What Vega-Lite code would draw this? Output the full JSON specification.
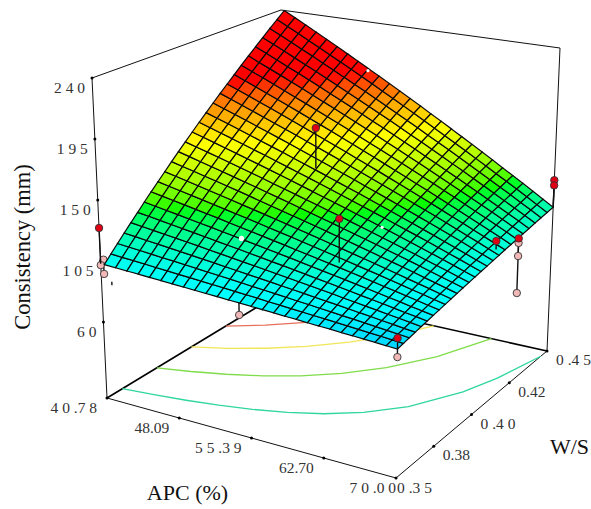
{"$schema":"https://vega.github.io/schema/vega-lite/v6.json","width":591,"height":509,"padding":0,"autosize":"none","background":"white","config":{"view":{"stroke":null}},
"datasets":{"nodes":[
{"id":0,"c":103},{"id":100,"c":102.6},{"id":200,"c":102.1},{"id":300,"c":101.7},{"id":400,"c":101.2},{"id":500,"c":100.8},{"id":600,"c":100.3},{"id":700,"c":99.9},{"id":800,"c":99.5},{"id":900,"c":99},{"id":1000,"c":98.6},{"id":1100,"c":98.1},{"id":1200,"c":97.7},{"id":1300,"c":97.3},{"id":1400,"c":96.8},{"id":1500,"c":96.4},{"id":1600,"c":95.9},{"id":1700,"c":95.5},{"id":1800,"c":95},{"id":1900,"c":94.6},{"id":2000,"c":94.2},{"id":2100,"c":93.7},{"id":2200,"c":93.3},{"id":2300,"c":92.8},{"id":2400,"c":92.4},{"id":2500,"c":91.9},{"id":2600,"c":91.5},
{"id":1,"c":108.3},{"id":101,"c":107.7},{"id":201,"c":107.1},{"id":301,"c":106.5},{"id":401,"c":105.8},{"id":501,"c":105.2},{"id":601,"c":104.6},{"id":701,"c":104},{"id":801,"c":103.4},{"id":901,"c":102.8},{"id":1001,"c":102.2},{"id":1101,"c":101.6},{"id":1201,"c":101},{"id":1301,"c":100.4},{"id":1401,"c":99.7},{"id":1501,"c":99.1},{"id":1601,"c":98.5},{"id":1701,"c":97.9},{"id":1801,"c":97.3},{"id":1901,"c":96.7},{"id":2001,"c":96.1},{"id":2101,"c":95.5},{"id":2201,"c":94.9},{"id":2301,"c":94.3},{"id":2401,"c":93.7},{"id":2501,"c":93},{"id":2601,"c":92.4},
{"id":2,"c":113.5},{"id":102,"c":112.8},{"id":202,"c":112},{"id":302,"c":111.2},{"id":402,"c":110.4},{"id":502,"c":109.7},{"id":602,"c":108.9},{"id":702,"c":108.1},{"id":802,"c":107.3},{"id":902,"c":106.6},{"id":1002,"c":105.8},{"id":1102,"c":105},{"id":1202,"c":104.2},{"id":1302,"c":103.5},{"id":1402,"c":102.7},{"id":1502,"c":101.9},{"id":1602,"c":101.1},{"id":1702,"c":100.4},{"id":1802,"c":99.6},{"id":1902,"c":98.8},{"id":2002,"c":98},{"id":2102,"c":97.3},{"id":2202,"c":96.5},{"id":2302,"c":95.7},{"id":2402,"c":94.9},{"id":2502,"c":94.2},{"id":2602,"c":93.4},
{"id":3,"c":118.8},{"id":103,"c":117.9},{"id":203,"c":116.9},{"id":303,"c":116},{"id":403,"c":115.1},{"id":503,"c":114.1},{"id":603,"c":113.2},{"id":703,"c":112.2},{"id":803,"c":111.3},{"id":903,"c":110.3},{"id":1003,"c":109.4},{"id":1103,"c":108.4},{"id":1203,"c":107.5},{"id":1303,"c":106.6},{"id":1403,"c":105.6},{"id":1503,"c":104.7},{"id":1603,"c":103.7},{"id":1703,"c":102.8},{"id":1803,"c":101.8},{"id":1903,"c":100.9},{"id":2003,"c":100},{"id":2103,"c":99},{"id":2203,"c":98.1},{"id":2303,"c":97.1},{"id":2403,"c":96.2},{"id":2503,"c":95.2},{"id":2603,"c":94.3},
{"id":4,"c":124.1},{"id":104,"c":123},{"id":204,"c":121.9},{"id":304,"c":120.8},{"id":404,"c":119.7},{"id":504,"c":118.6},{"id":604,"c":117.5},{"id":704,"c":116.3},{"id":804,"c":115.2},{"id":904,"c":114.1},{"id":1004,"c":113},{"id":1104,"c":111.9},{"id":1204,"c":110.8},{"id":1304,"c":109.7},{"id":1404,"c":108.6},{"id":1504,"c":107.5},{"id":1604,"c":106.4},{"id":1704,"c":105.3},{"id":1804,"c":104.2},{"id":1904,"c":103},{"id":2004,"c":101.9},{"id":2104,"c":100.8},{"id":2204,"c":99.7},{"id":2304,"c":98.6},{"id":2404,"c":97.5},{"id":2504,"c":96.4},{"id":2604,"c":95.3},
{"id":5,"c":129.3},{"id":105,"c":128.1},{"id":205,"c":126.8},{"id":305,"c":125.5},{"id":405,"c":124.2},{"id":505,"c":123},{"id":605,"c":121.7},{"id":705,"c":120.4},{"id":805,"c":119.1},{"id":905,"c":117.9},{"id":1005,"c":116.6},{"id":1105,"c":115.3},{"id":1205,"c":114},{"id":1305,"c":112.8},{"id":1405,"c":111.5},{"id":1505,"c":110.2},{"id":1605,"c":108.9},{"id":1705,"c":107.7},{"id":1805,"c":106.4},{"id":1905,"c":105.1},{"id":2005,"c":103.8},{"id":2105,"c":102.6},{"id":2205,"c":101.3},{"id":2305,"c":100},{"id":2405,"c":98.7},{"id":2505,"c":97.5},{"id":2605,"c":96.2},
{"id":6,"c":134.6},{"id":106,"c":133.2},{"id":206,"c":131.7},{"id":306,"c":130.3},{"id":406,"c":128.8},{"id":506,"c":127.4},{"id":606,"c":126},{"id":706,"c":124.5},{"id":806,"c":123.1},{"id":906,"c":121.6},{"id":1006,"c":120.2},{"id":1106,"c":118.8},{"id":1206,"c":117.3},{"id":1306,"c":115.9},{"id":1406,"c":114.4},{"id":1506,"c":113},{"id":1606,"c":111.5},{"id":1706,"c":110.1},{"id":1806,"c":108.7},{"id":1906,"c":107.2},{"id":2006,"c":105.8},{"id":2106,"c":104.3},{"id":2206,"c":102.9},{"id":2306,"c":101.5},{"id":2406,"c":100},{"id":2506,"c":98.6},{"id":2606,"c":97.2},
{"id":7,"c":139.9},{"id":107,"c":138.3},{"id":207,"c":136.7},{"id":307,"c":135.1},{"id":407,"c":133.5},{"id":507,"c":131.9},{"id":607,"c":130.3},{"id":707,"c":128.6},{"id":807,"c":127},{"id":907,"c":125.4},{"id":1007,"c":123.8},{"id":1107,"c":122.2},{"id":1207,"c":120.6},{"id":1307,"c":119},{"id":1407,"c":117.4},{"id":1507,"c":115.8},{"id":1607,"c":114.2},{"id":1707,"c":112.6},{"id":1807,"c":111},{"id":1907,"c":109.4},{"id":2007,"c":107.8},{"id":2107,"c":106.1},{"id":2207,"c":104.5},{"id":2307,"c":102.9},{"id":2407,"c":101.3},{"id":2507,"c":99.7},{"id":2607,"c":98.1},
{"id":8,"c":145.2},{"id":108,"c":143.4},{"id":208,"c":141.6},{"id":308,"c":139.8},{"id":408,"c":138.1},{"id":508,"c":136.3},{"id":608,"c":134.5},{"id":708,"c":132.7},{"id":808,"c":131},{"id":908,"c":129.2},{"id":1008,"c":127.4},{"id":1108,"c":125.6},{"id":1208,"c":123.9},{"id":1308,"c":122.1},{"id":1408,"c":120.3},{"id":1508,"c":118.5},{"id":1608,"c":116.8},{"id":1708,"c":115},{"id":1808,"c":113.2},{"id":1908,"c":111.4},{"id":2008,"c":109.7},{"id":2108,"c":107.9},{"id":2208,"c":106.1},{"id":2308,"c":104.3},{"id":2408,"c":102.6},{"id":2508,"c":100.8},{"id":2608,"c":99},
{"id":9,"c":150.4},{"id":109,"c":148.5},{"id":209,"c":146.5},{"id":309,"c":144.6},{"id":409,"c":142.7},{"id":509,"c":140.7},{"id":609,"c":138.8},{"id":709,"c":136.8},{"id":809,"c":134.9},{"id":909,"c":133},{"id":1009,"c":131},{"id":1109,"c":129.1},{"id":1209,"c":127.1},{"id":1309,"c":125.2},{"id":1409,"c":123.3},{"id":1509,"c":121.3},{"id":1609,"c":119.4},{"id":1709,"c":117.4},{"id":1809,"c":115.5},{"id":1909,"c":113.6},{"id":2009,"c":111.6},{"id":2109,"c":109.7},{"id":2209,"c":107.7},{"id":2309,"c":105.8},{"id":2409,"c":103.9},{"id":2509,"c":101.9},{"id":2609,"c":100},
{"id":10,"c":155.7},{"id":110,"c":153.6},{"id":210,"c":151.5},{"id":310,"c":149.4},{"id":410,"c":147.3},{"id":510,"c":145.2},{"id":610,"c":143.1},{"id":710,"c":141},{"id":810,"c":138.8},{"id":910,"c":136.7},{"id":1010,"c":134.6},{"id":1110,"c":132.5},{"id":1210,"c":130.4},{"id":1310,"c":128.3},{"id":1410,"c":126.2},{"id":1510,"c":124.1},{"id":1610,"c":122},{"id":1710,"c":119.9},{"id":1810,"c":117.8},{"id":1910,"c":115.7},{"id":2010,"c":113.6},{"id":2110,"c":111.5},{"id":2210,"c":109.4},{"id":2310,"c":107.2},{"id":2410,"c":105.1},{"id":2510,"c":103},{"id":2610,"c":100.9},
{"id":11,"c":161},{"id":111,"c":158.7},{"id":211,"c":156.4},{"id":311,"c":154.2},{"id":411,"c":151.9},{"id":511,"c":149.6},{"id":611,"c":147.3},{"id":711,"c":145.1},{"id":811,"c":142.8},{"id":911,"c":140.5},{"id":1011,"c":138.3},{"id":1111,"c":136},{"id":1211,"c":133.7},{"id":1311,"c":131.4},{"id":1411,"c":129.2},{"id":1511,"c":126.9},{"id":1611,"c":124.6},{"id":1711,"c":122.4},{"id":1811,"c":120.1},{"id":1911,"c":117.8},{"id":2011,"c":115.5},{"id":2111,"c":113.3},{"id":2211,"c":111},{"id":2311,"c":108.7},{"id":2411,"c":106.4},{"id":2511,"c":104.2},{"id":2611,"c":101.9},
{"id":12,"c":166.2},{"id":112,"c":163.8},{"id":212,"c":161.4},{"id":312,"c":159},{"id":412,"c":156.5},{"id":512,"c":154.1},{"id":612,"c":151.6},{"id":712,"c":149.2},{"id":812,"c":146.7},{"id":912,"c":144.3},{"id":1012,"c":141.8},{"id":1112,"c":139.4},{"id":1212,"c":137},{"id":1312,"c":134.5},{"id":1412,"c":132.1},{"id":1512,"c":129.6},{"id":1612,"c":127.2},{"id":1712,"c":124.7},{"id":1812,"c":122.3},{"id":1912,"c":119.9},{"id":2012,"c":117.4},{"id":2112,"c":115},{"id":2212,"c":112.5},{"id":2312,"c":110.1},{"id":2412,"c":107.7},{"id":2512,"c":105.2},{"id":2612,"c":102.8},
{"id":13,"c":171.5},{"id":113,"c":168.9},{"id":213,"c":166.3},{"id":313,"c":163.7},{"id":413,"c":161.1},{"id":513,"c":158.5},{"id":613,"c":155.9},{"id":713,"c":153.3},{"id":813,"c":150.7},{"id":913,"c":148.1},{"id":1013,"c":145.4},{"id":1113,"c":142.8},{"id":1213,"c":140.2},{"id":1313,"c":137.6},{"id":1413,"c":135},{"id":1513,"c":132.4},{"id":1613,"c":129.8},{"id":1713,"c":127.2},{"id":1813,"c":124.6},{"id":1913,"c":122},{"id":2013,"c":119.4},{"id":2113,"c":116.8},{"id":2213,"c":114.2},{"id":2313,"c":111.6},{"id":2413,"c":108.9},{"id":2513,"c":106.3},{"id":2613,"c":103.75},
{"id":14,"c":176.8},{"id":114,"c":174},{"id":214,"c":171.2},{"id":314,"c":168.5},{"id":414,"c":165.7},{"id":514,"c":162.9},{"id":614,"c":160.2},{"id":714,"c":157.4},{"id":814,"c":154.6},{"id":914,"c":151.8},{"id":1014,"c":149.1},{"id":1114,"c":146.3},{"id":1214,"c":143.5},{"id":1314,"c":140.8},{"id":1414,"c":138},{"id":1514,"c":135.2},{"id":1614,"c":132.4},{"id":1714,"c":129.7},{"id":1814,"c":126.9},{"id":1914,"c":124.1},{"id":2014,"c":121.4},{"id":2114,"c":118.6},{"id":2214,"c":115.8},{"id":2314,"c":113},{"id":2414,"c":110.3},{"id":2514,"c":107.5},{"id":2614,"c":104.7},
{"id":15,"c":182},{"id":115,"c":179.1},{"id":215,"c":176.2},{"id":315,"c":173.2},{"id":415,"c":170.3},{"id":515,"c":167.3},{"id":615,"c":164.4},{"id":715,"c":161.5},{"id":815,"c":158.5},{"id":915,"c":155.6},{"id":1015,"c":152.6},{"id":1115,"c":149.7},{"id":1215,"c":146.7},{"id":1315,"c":143.8},{"id":1415,"c":140.9},{"id":1515,"c":137.9},{"id":1615,"c":135},{"id":1715,"c":132},{"id":1815,"c":129.1},{"id":1915,"c":126.2},{"id":2015,"c":123.2},{"id":2115,"c":120.3},{"id":2215,"c":117.3},{"id":2315,"c":114.4},{"id":2415,"c":111.5},{"id":2515,"c":108.5},{"id":2615,"c":105.6},
{"id":16,"c":187.3},{"id":116,"c":184.2},{"id":216,"c":181.1},{"id":316,"c":178},{"id":416,"c":174.9},{"id":516,"c":171.8},{"id":616,"c":168.7},{"id":716,"c":165.6},{"id":816,"c":162.5},{"id":916,"c":159.4},{"id":1016,"c":156.3},{"id":1116,"c":153.2},{"id":1216,"c":150.1},{"id":1316,"c":147},{"id":1416,"c":143.8},{"id":1516,"c":140.7},{"id":1616,"c":137.6},{"id":1716,"c":134.5},{"id":1816,"c":131.4},{"id":1916,"c":128.3},{"id":2016,"c":125.2},{"id":2116,"c":122.1},{"id":2216,"c":119},{"id":2316,"c":115.9},{"id":2416,"c":112.8},{"id":2516,"c":109.7},{"id":2616,"c":106.6},
{"id":17,"c":192.6},{"id":117,"c":189.3},{"id":217,"c":186},{"id":317,"c":182.8},{"id":417,"c":179.5},{"id":517,"c":176.2},{"id":617,"c":172.9},{"id":717,"c":169.7},{"id":817,"c":166.4},{"id":917,"c":163.1},{"id":1017,"c":159.9},{"id":1117,"c":156.6},{"id":1217,"c":153.3},{"id":1317,"c":150},{"id":1417,"c":146.8},{"id":1517,"c":143.5},{"id":1617,"c":140.2},{"id":1717,"c":137},{"id":1817,"c":133.7},{"id":1917,"c":130.4},{"id":2017,"c":127.2},{"id":2117,"c":123.9},{"id":2217,"c":120.6},{"id":2317,"c":117.3},{"id":2417,"c":114.1},{"id":2517,"c":110.8},{"id":2617,"c":107.5},
{"id":18,"c":197.8},{"id":118,"c":194.4},{"id":218,"c":191},{"id":318,"c":187.5},{"id":418,"c":184.1},{"id":518,"c":180.6},{"id":618,"c":177.2},{"id":718,"c":173.7},{"id":818,"c":170.3},{"id":918,"c":166.9},{"id":1018,"c":163.4},{"id":1118,"c":160},{"id":1218,"c":156.5},{"id":1318,"c":153.1},{"id":1418,"c":149.7},{"id":1518,"c":146.2},{"id":1618,"c":142.8},{"id":1718,"c":139.4},{"id":1818,"c":135.9},{"id":1918,"c":132.5},{"id":2018,"c":129},{"id":2118,"c":125.6},{"id":2218,"c":122.2},{"id":2318,"c":118.7},{"id":2418,"c":115.3},{"id":2518,"c":111.9},{"id":2618,"c":108.5},
{"id":19,"c":203.1},{"id":119,"c":199.5},{"id":219,"c":195.9},{"id":319,"c":192.3},{"id":419,"c":188.7},{"id":519,"c":185.1},{"id":619,"c":181.5},{"id":719,"c":177.9},{"id":819,"c":174.3},{"id":919,"c":170.7},{"id":1019,"c":167.1},{"id":1119,"c":163.5},{"id":1219,"c":159.9},{"id":1319,"c":156.2},{"id":1419,"c":152.6},{"id":1519,"c":149},{"id":1619,"c":145.4},{"id":1719,"c":141.8},{"id":1819,"c":138.2},{"id":1919,"c":134.6},{"id":2019,"c":131},{"id":2119,"c":127.4},{"id":2219,"c":123.8},{"id":2319,"c":120.2},{"id":2419,"c":116.6},{"id":2519,"c":113},{"id":2619,"c":109.4},
{"id":20,"c":208.4},{"id":120,"c":204.6},{"id":220,"c":200.9},{"id":320,"c":197.1},{"id":420,"c":193.3},{"id":520,"c":189.5},{"id":620,"c":185.8},{"id":720,"c":182},{"id":820,"c":178.2},{"id":920,"c":174.5},{"id":1020,"c":170.7},{"id":1120,"c":166.9},{"id":1220,"c":163.1},{"id":1320,"c":159.4},{"id":1420,"c":155.6},{"id":1520,"c":151.8},{"id":1620,"c":148.1},{"id":1720,"c":144.3},{"id":1820,"c":140.5},{"id":1920,"c":136.7},{"id":2020,"c":133},{"id":2120,"c":129.2},{"id":2220,"c":125.4},{"id":2320,"c":121.7},{"id":2420,"c":117.9},{"id":2520,"c":114.1},{"id":2620,"c":110.3},
{"id":21,"c":213.7},{"id":121,"c":209.7},{"id":221,"c":205.8},{"id":321,"c":201.9},{"id":421,"c":197.9},{"id":521,"c":194},{"id":621,"c":190.1},{"id":721,"c":186.1},{"id":821,"c":182.2},{"id":921,"c":178.3},{"id":1021,"c":174.3},{"id":1121,"c":170.4},{"id":1221,"c":166.5},{"id":1321,"c":162.5},{"id":1421,"c":158.6},{"id":1521,"c":154.6},{"id":1621,"c":150.7},{"id":1721,"c":146.8},{"id":1821,"c":142.8},{"id":1921,"c":138.9},{"id":2021,"c":135},{"id":2121,"c":131},{"id":2221,"c":127.1},{"id":2321,"c":123.2},{"id":2421,"c":119.2},{"id":2521,"c":115.3},{"id":2621,"c":111.3},
{"id":22,"c":218.9},{"id":122,"c":214.8},{"id":222,"c":210.7},{"id":322,"c":206.6},{"id":422,"c":202.5},{"id":522,"c":198.4},{"id":622,"c":194.3},{"id":722,"c":190.2},{"id":822,"c":186.1},{"id":922,"c":182},{"id":1022,"c":177.9},{"id":1122,"c":173.8},{"id":1222,"c":169.7},{"id":1322,"c":165.6},{"id":1422,"c":161.5},{"id":1522,"c":157.4},{"id":1622,"c":153.2},{"id":1722,"c":149.1},{"id":1822,"c":145},{"id":1922,"c":140.9},{"id":2022,"c":136.8},{"id":2122,"c":132.7},{"id":2222,"c":128.6},{"id":2322,"c":124.5},{"id":2422,"c":120.4},{"id":2522,"c":116.3},{"id":2622,"c":112.2},
{"id":23,"c":224.2},{"id":123,"c":219.9},{"id":223,"c":215.7},{"id":323,"c":211.4},{"id":423,"c":207.1},{"id":523,"c":202.9},{"id":623,"c":198.6},{"id":723,"c":194.3},{"id":823,"c":190},{"id":923,"c":185.8},{"id":1023,"c":181.5},{"id":1123,"c":177.2},{"id":1223,"c":173},{"id":1323,"c":168.7},{"id":1423,"c":164.4},{"id":1523,"c":160.2},{"id":1623,"c":155.9},{"id":1723,"c":151.6},{"id":1823,"c":147.3},{"id":1923,"c":143.1},{"id":2023,"c":138.8},{"id":2123,"c":134.5},{"id":2223,"c":130.3},{"id":2323,"c":126},{"id":2423,"c":121.7},{"id":2523,"c":117.5},{"id":2623,"c":113.2},
{"id":24,"c":229.5},{"id":124,"c":225},{"id":224,"c":220.6},{"id":324,"c":216.2},{"id":424,"c":211.8},{"id":524,"c":207.3},{"id":624,"c":202.9},{"id":724,"c":198.4},{"id":824,"c":194},{"id":924,"c":189.6},{"id":1024,"c":185.1},{"id":1124,"c":180.7},{"id":1224,"c":176.3},{"id":1324,"c":171.8},{"id":1424,"c":167.4},{"id":1524,"c":162.9},{"id":1624,"c":158.5},{"id":1724,"c":154.1},{"id":1824,"c":149.6},{"id":1924,"c":145.2},{"id":2024,"c":140.8},{"id":2124,"c":136.3},{"id":2224,"c":131.9},{"id":2324,"c":127.5},{"id":2424,"c":123},{"id":2524,"c":118.6},{"id":2624,"c":114.1},
{"id":25,"c":234.7},{"id":125,"c":230.1},{"id":225,"c":225.5},{"id":325,"c":220.9},{"id":425,"c":216.3},{"id":525,"c":211.7},{"id":625,"c":207.1},{"id":725,"c":202.5},{"id":825,"c":197.9},{"id":925,"c":193.3},{"id":1025,"c":188.7},{"id":1125,"c":184.1},{"id":1225,"c":179.5},{"id":1325,"c":174.9},{"id":1425,"c":170.3},{"id":1525,"c":165.7},{"id":1625,"c":161.1},{"id":1725,"c":156.5},{"id":1825,"c":151.9},{"id":1925,"c":147.3},{"id":2025,"c":142.7},{"id":2125,"c":138.1},{"id":2225,"c":133.5},{"id":2325,"c":128.9},{"id":2425,"c":124.3},{"id":2525,"c":119.7},{"id":2625,"c":115.1},
{"id":26,"c":240},{"id":126,"c":235.2},{"id":226,"c":230.5},{"id":326,"c":225.7},{"id":426,"c":220.9},{"id":526,"c":216.2},{"id":626,"c":211.4},{"id":726,"c":206.6},{"id":826,"c":201.8},{"id":926,"c":197.1},{"id":1026,"c":192.3},{"id":1126,"c":187.5},{"id":1226,"c":182.8},{"id":1326,"c":178},{"id":1426,"c":173.2},{"id":1526,"c":168.5},{"id":1626,"c":163.7},{"id":1726,"c":158.9},{"id":1826,"c":154.2},{"id":1926,"c":149.4},{"id":2026,"c":144.6},{"id":2126,"c":139.8},{"id":2226,"c":135.1},{"id":2326,"c":130.3},{"id":2426,"c":125.5},{"id":2526,"c":120.8},{"id":2626,"c":116}
],
"items":[
{"kind":"box","seg":"b1","a":0,"w":0,"c":4},{"kind":"box","seg":"b1","a":1,"w":0,"c":4},
{"kind":"box","seg":"b2","a":1,"w":0,"c":4},{"kind":"box","seg":"b2","a":1,"w":1,"c":4},
{"kind":"box","seg":"b3","a":1,"w":1,"c":4},{"kind":"box","seg":"b3","a":1,"w":1,"c":240},
{"kind":"box","seg":"b4","a":1,"w":1,"c":240},{"kind":"box","seg":"b4","a":0,"w":1,"c":240},
{"kind":"box","seg":"b5","a":0,"w":1,"c":240},{"kind":"box","seg":"b5","a":0,"w":0,"c":240},
{"kind":"box","seg":"b6","a":0,"w":0,"c":240},{"kind":"box","seg":"b6","a":0,"w":0,"c":4},
{"kind":"back","seg":"s1","a":0,"w":0,"c":4},{"kind":"back","seg":"s1","a":0,"w":1,"c":4},
{"kind":"back","seg":"s2","a":0,"w":1,"c":4},{"kind":"back","seg":"s2","a":1,"w":1,"c":4},
{"kind":"tick","a":0,"w":0,"c":240},{"kind":"tick","a":0,"w":0,"c":195},{"kind":"tick","a":0,"w":0,"c":150},{"kind":"tick","a":0,"w":0,"c":105},{"kind":"tick","a":0,"w":0,"c":60},{"kind":"tick","a":0,"w":0,"c":4},
{"kind":"tick","a":0.25,"w":0,"c":4},{"kind":"tick","a":0.5,"w":0,"c":4},{"kind":"tick","a":0.75,"w":0,"c":4},{"kind":"tick","a":1,"w":0,"c":4},
{"kind":"tick","a":1,"w":0.25,"c":4},{"kind":"tick","a":1,"w":0.5,"c":4},{"kind":"tick","a":1,"w":0.75,"c":4},{"kind":"tick","a":1,"w":1,"c":4},
{"kind":"zl","label":"2 4 0","a":0,"w":0,"c":240},{"kind":"zl","label":"1 9 5","a":0,"w":0,"c":195},{"kind":"zl","label":"1 5 0","a":0,"w":0,"c":150},{"kind":"zl","label":"1 0 5","a":0,"w":0,"c":105},{"kind":"zl","label":"6 0","a":0,"w":0,"c":60},
{"kind":"al","label":"4 0 .7 8","a":0,"w":0,"c":4},{"kind":"al","label":"48.09","a":0.25,"w":0,"c":4},{"kind":"al","label":"5 5 .3 9","a":0.5,"w":0,"c":4},{"kind":"al","label":"62.70","a":0.75,"w":0,"c":4},
{"kind":"alast","label":"7 0 .0 0","a":1,"w":0,"c":4},{"kind":"wfirst","label":"0 .3 5","a":1,"w":0,"c":4},
{"kind":"wl","label":"0.38","a":1,"w":0.25,"c":4},{"kind":"wl","label":"0 .4 0","a":1,"w":0.5,"c":4},{"kind":"wl","label":"0.42","a":1,"w":0.75,"c":4},{"kind":"wl","label":"0 .4 5","a":1,"w":1,"c":4},
{"kind":"tz","label":"Consistency (mm)","a":0,"w":0,"c":115.4},{"kind":"ta","label":"APC (%)","a":0.5,"w":0,"c":4},{"kind":"tw","label":"W/S","a":1,"w":0.5,"c":4},
{"kind":"contour","seg":"L115","a":0,"w":0.0876,"c":4},{"kind":"contour","seg":"L115","a":0.1,"w":0.1046,"c":4},{"kind":"contour","seg":"L115","a":0.2,"w":0.1249,"c":4},{"kind":"contour","seg":"L115","a":0.3,"w":0.1496,"c":4},{"kind":"contour","seg":"L115","a":0.4,"w":0.1804,"c":4},{"kind":"contour","seg":"L115","a":0.5,"w":0.2198,"c":4},{"kind":"contour","seg":"L115","a":0.6,"w":0.2719,"c":4},{"kind":"contour","seg":"L115","a":0.7,"w":0.3442,"c":4},{"kind":"contour","seg":"L115","a":0.8,"w":0.4511,"c":4},{"kind":"contour","seg":"L115","a":0.9,"w":0.6252,"c":4},{"kind":"contour","seg":"L115","a":0.95,"w":0.761,"c":4},{"kind":"contour","seg":"L115","a":1,"w":0.959,"c":4},
{"kind":"contour","seg":"L142","a":0,"w":0.2847,"c":4},{"kind":"contour","seg":"L142","a":0.1,"w":0.3193,"c":4},{"kind":"contour","seg":"L142","a":0.2,"w":0.3607,"c":4},{"kind":"contour","seg":"L142","a":0.3,"w":0.4111,"c":4},{"kind":"contour","seg":"L142","a":0.4,"w":0.4739,"c":4},{"kind":"contour","seg":"L142","a":0.5,"w":0.5542,"c":4},{"kind":"contour","seg":"L142","a":0.6,"w":0.6604,"c":4},{"kind":"contour","seg":"L142","a":0.7,"w":0.8077,"c":4},{"kind":"contour","seg":"L142","a":0.79,"w":1,"c":4},
{"kind":"contour","seg":"L169","a":0,"w":0.4818,"c":4},{"kind":"contour","seg":"L169","a":0.1,"w":0.534,"c":4},{"kind":"contour","seg":"L169","a":0.2,"w":0.5965,"c":4},{"kind":"contour","seg":"L169","a":0.3,"w":0.6726,"c":4},{"kind":"contour","seg":"L169","a":0.4,"w":0.7674,"c":4},{"kind":"contour","seg":"L169","a":0.5,"w":0.8885,"c":4},{"kind":"contour","seg":"L169","a":0.5726,"w":1,"c":4},
{"kind":"contour","seg":"L196","a":0,"w":0.6788,"c":4},{"kind":"contour","seg":"L196","a":0.1,"w":0.7487,"c":4},{"kind":"contour","seg":"L196","a":0.2,"w":0.8323,"c":4},{"kind":"contour","seg":"L196","a":0.3,"w":0.9341,"c":4},{"kind":"contour","seg":"L196","a":0.355,"w":1,"c":4},
{"kind":"pink","a":0.01,"w":0,"c":106.5,"fit":103},{"kind":"pink","a":0,"w":0,"c":102,"fit":103},{"kind":"pink","a":0.01,"w":0,"c":96,"fit":103},{"kind":"pink","a":0.465,"w":0,"c":89.2,"fit":97.7},{"kind":"pink","a":1,"w":0,"c":86,"fit":91.5},{"kind":"pink","a":1,"w":0.78,"c":106.6,"fit":110.6},{"kind":"pink","a":1,"w":0.78,"c":96.7,"fit":110.6},{"kind":"pink","a":1,"w":0.78,"c":68.8,"fit":110.6},
{"kind":"nick","a":0.035,"w":0,"c":89,"fit":91.5},
{"kind":"red","a":0.388,"w":0.586,"c":184,"fit":153.3},{"kind":"red","a":0.643,"w":0.29,"c":146,"fit":114.3},{"kind":"red","a":0,"w":0,"c":129.4,"fit":103},{"kind":"red","a":1,"w":0,"c":98.9,"fit":91.5},{"kind":"red","a":0.98,"w":0.67,"c":116,"fit":109.65},{"kind":"red","a":1,"w":0.78,"c":110,"fit":110.6},{"kind":"red","a":1,"w":1,"c":137,"fit":116},{"kind":"red","a":1,"w":1,"c":133,"fit":116},
{"kind":"gapL","a":0.34,"w":0.234,"c":122.2},{"kind":"gap","a":0.671,"w":0.501,"c":126.1},{"kind":"gap","a":0.32,"w":0.99,"c":201}
]},
"data":{"name":"items"},
"transform":[
{"calculate":"(1-datum.a)*((1-datum.w)*107+datum.w*282)+datum.a*((1-datum.w)*396+datum.w*547)","as":"fx"},
{"calculate":"(1-datum.a)*((1-datum.w)*398+datum.w*292)+datum.a*((1-datum.w)*478+datum.w*351)","as":"fy"},
{"calculate":"(1-datum.a)*((1-datum.w)*92+datum.w*281)+datum.a*((1-datum.w)*400+datum.w*560)","as":"cx"},
{"calculate":"(1-datum.a)*((1-datum.w)*78+datum.w*10)+datum.a*((1-datum.w)*130+datum.w*48)","as":"cy"},
{"calculate":"datum.fx+(datum.cx-datum.fx)*(datum.c-4)/236","as":"sx"},
{"calculate":"datum.fy+(datum.cy-datum.fy)*(datum.c-4)/236","as":"sy"},
{"calculate":"datum.fx+(datum.cx-datum.fx)*(datum.fit-4)/236","as":"sx2"},
{"calculate":"datum.fy+(datum.cy-datum.fy)*(datum.fit-4)/236","as":"sy2"}
],
"layer":[
{"encoding":{"x":{"field":"sx","type":"quantitative","scale":{"domain":[0,591],"range":[0,591]},"axis":null},"y":{"field":"sy","type":"quantitative","scale":{"domain":[0,509],"range":[0,509]},"axis":null}},
"layer":[
{"transform":[{"filter":"datum.kind=='back'"}],"mark":{"type":"line","stroke":"#000","strokeWidth":1.6},"encoding":{"detail":{"field":"seg"}}},
{"transform":[{"filter":"datum.kind=='box'"}],"mark":{"type":"line","stroke":"#111","strokeWidth":1},"encoding":{"detail":{"field":"seg"}}},
{"transform":[{"filter":"datum.kind=='contour'"}],"mark":{"type":"line","strokeWidth":1.3},"encoding":{"detail":{"field":"seg"},"color":{"field":"seg","type":"nominal","scale":{"domain":["L115","L142","L169","L196"],"range":["#2fd6a0","#7fdc4a","#f0e65a","#e8705a"]},"legend":null}}},
{"transform":[{"filter":"datum.kind=='tick'"}],"mark":{"type":"circle","size":9,"color":"#000","opacity":1}},
{"transform":[{"filter":"datum.kind=='pink'||datum.kind=='nick'"}],"mark":{"type":"rule","stroke":"#111","strokeWidth":1.4},"encoding":{"x2":{"field":"sx2"},"y2":{"field":"sy2"}}},
{"transform":[{"filter":"datum.kind=='pink'"}],"mark":{"type":"circle","size":55,"fill":"#f2b8b8","stroke":"#333","strokeWidth":0.9,"opacity":1}},
{"transform":[{"filter":"datum.kind=='zl'"}],"mark":{"type":"text","font":"Liberation Serif","fontSize":15.5,"fill":"#333","align":"right","baseline":"middle","dx":-7,"dy":10},"encoding":{"text":{"field":"label"}}},
{"transform":[{"filter":"datum.kind=='al'"}],"mark":{"type":"text","font":"Liberation Serif","fontSize":15.5,"fill":"#333","align":"right","baseline":"middle","dx":-10,"dy":10},"encoding":{"text":{"field":"label"}}},
{"transform":[{"filter":"datum.kind=='alast'"}],"mark":{"type":"text","font":"Liberation Serif","fontSize":15.5,"fill":"#333","align":"right","baseline":"middle","dx":0,"dy":10},"encoding":{"text":{"field":"label"}}},
{"transform":[{"filter":"datum.kind=='wfirst'"}],"mark":{"type":"text","font":"Liberation Serif","fontSize":15.5,"fill":"#333","align":"left","baseline":"middle","dx":1,"dy":10},"encoding":{"text":{"field":"label"}}},
{"transform":[{"filter":"datum.kind=='wl'"}],"mark":{"type":"text","font":"Liberation Serif","fontSize":15.5,"fill":"#333","align":"left","baseline":"middle","dx":9,"dy":9},"encoding":{"text":{"field":"label"}}},
{"transform":[{"filter":"datum.kind=='tz'"}],"mark":{"type":"text","font":"Liberation Serif","fontSize":22.5,"fill":"#111","align":"center","baseline":"middle","angle":270,"dy":-77},"encoding":{"text":{"field":"label"}}},
{"transform":[{"filter":"datum.kind=='ta'"}],"mark":{"type":"text","font":"Liberation Serif","fontSize":22,"fill":"#111","align":"center","baseline":"middle","dx":-64,"dy":55},"encoding":{"text":{"field":"label"}}},
{"transform":[{"filter":"datum.kind=='tw'"}],"mark":{"type":"text","font":"Liberation Serif","fontSize":22,"fill":"#111","align":"center","baseline":"middle","dx":98,"dy":32},"encoding":{"text":{"field":"label"}}}
]},
{"data":{"name":"nodes"},
"transform":[
{"calculate":"floor(datum.id/100)","as":"i"},{"calculate":"datum.id%100","as":"j"},
{"filter":"datum.i<26&&datum.j<26"},
{"calculate":"datum.id+100","as":"k1"},{"calculate":"datum.id+101","as":"k2"},{"calculate":"datum.id+1","as":"k3"},
{"lookup":"k1","from":{"data":{"name":"nodes"},"key":"id","fields":["c"]},"as":["c1"]},
{"lookup":"k2","from":{"data":{"name":"nodes"},"key":"id","fields":["c"]},"as":["c2"]},
{"lookup":"k3","from":{"data":{"name":"nodes"},"key":"id","fields":["c"]},"as":["c3"]},
{"calculate":"(datum.c+datum.c1+datum.c2+datum.c3)/4","as":"cm"},
{"calculate":"0.012+0.988*datum.i/26","as":"a0"},{"calculate":"0.012+0.988*(datum.i+1)/26","as":"a1"},{"calculate":"datum.j/26","as":"w0"},{"calculate":"(datum.j+1)/26","as":"w1"},
{"calculate":"(1-datum.a0)*((1-datum.w0)*107+datum.w0*282)+datum.a0*((1-datum.w0)*396+datum.w0*547)","as":"fx00"},
{"calculate":"(1-datum.a1)*((1-datum.w0)*107+datum.w0*282)+datum.a1*((1-datum.w0)*396+datum.w0*547)","as":"fx10"},
{"calculate":"(1-datum.a1)*((1-datum.w1)*107+datum.w1*282)+datum.a1*((1-datum.w1)*396+datum.w1*547)","as":"fx11"},
{"calculate":"(1-datum.a0)*((1-datum.w1)*107+datum.w1*282)+datum.a0*((1-datum.w1)*396+datum.w1*547)","as":"fx01"},
{"calculate":"(1-datum.a0)*((1-datum.w0)*398+datum.w0*292)+datum.a0*((1-datum.w0)*478+datum.w0*351)","as":"fy00"},
{"calculate":"(1-datum.a1)*((1-datum.w0)*398+datum.w0*292)+datum.a1*((1-datum.w0)*478+datum.w0*351)","as":"fy10"},
{"calculate":"(1-datum.a1)*((1-datum.w1)*398+datum.w1*292)+datum.a1*((1-datum.w1)*478+datum.w1*351)","as":"fy11"},
{"calculate":"(1-datum.a0)*((1-datum.w1)*398+datum.w1*292)+datum.a0*((1-datum.w1)*478+datum.w1*351)","as":"fy01"},
{"calculate":"(1-datum.a0)*((1-datum.w0)*92+datum.w0*281)+datum.a0*((1-datum.w0)*400+datum.w0*560)","as":"cx00"},
{"calculate":"(1-datum.a1)*((1-datum.w0)*92+datum.w0*281)+datum.a1*((1-datum.w0)*400+datum.w0*560)","as":"cx10"},
{"calculate":"(1-datum.a1)*((1-datum.w1)*92+datum.w1*281)+datum.a1*((1-datum.w1)*400+datum.w1*560)","as":"cx11"},
{"calculate":"(1-datum.a0)*((1-datum.w1)*92+datum.w1*281)+datum.a0*((1-datum.w1)*400+datum.w1*560)","as":"cx01"},
{"calculate":"(1-datum.a0)*((1-datum.w0)*78+datum.w0*10)+datum.a0*((1-datum.w0)*130+datum.w0*48)","as":"cy00"},
{"calculate":"(1-datum.a1)*((1-datum.w0)*78+datum.w0*10)+datum.a1*((1-datum.w0)*130+datum.w0*48)","as":"cy10"},
{"calculate":"(1-datum.a1)*((1-datum.w1)*78+datum.w1*10)+datum.a1*((1-datum.w1)*130+datum.w1*48)","as":"cy11"},
{"calculate":"(1-datum.a0)*((1-datum.w1)*78+datum.w1*10)+datum.a0*((1-datum.w1)*130+datum.w1*48)","as":"cy01"},
{"calculate":"{type:'Feature',properties:{},geometry:{type:'Polygon',coordinates:[[[datum.fx00+(datum.cx00-datum.fx00)*(datum.c-4)/236,datum.fy00+(datum.cy00-datum.fy00)*(datum.c-4)/236],[datum.fx10+(datum.cx10-datum.fx10)*(datum.c1-4)/236,datum.fy10+(datum.cy10-datum.fy10)*(datum.c1-4)/236],[datum.fx11+(datum.cx11-datum.fx11)*(datum.c2-4)/236,datum.fy11+(datum.cy11-datum.fy11)*(datum.c2-4)/236],[datum.fx01+(datum.cx01-datum.fx01)*(datum.c3-4)/236,datum.fy01+(datum.cy01-datum.fy01)*(datum.c3-4)/236],[datum.fx00+(datum.cx00-datum.fx00)*(datum.c-4)/236,datum.fy00+(datum.cy00-datum.fy00)*(datum.c-4)/236]]]}}","as":"geo"}
],
"projection":{"type":"identity","scale":1,"translate":[0,0]},
"mark":{"type":"geoshape","stroke":"#0a0a0a","strokeWidth":1.2},
"encoding":{"shape":{"field":"geo","type":"geojson"},"color":{"field":"cm","type":"quantitative","scale":{"domain":[67,100,133,166,199],"range":["#0000ff","#00ffff","#00ff00","#ffff00","#ff0000"],"clamp":true},"legend":null}}},
{"encoding":{"x":{"field":"sx","type":"quantitative","scale":{"domain":[0,591],"range":[0,591]},"axis":null},"y":{"field":"sy","type":"quantitative","scale":{"domain":[0,509],"range":[0,509]},"axis":null}},
"layer":[
{"transform":[{"filter":"datum.kind=='red'"}],"mark":{"type":"rule","stroke":"#111","strokeWidth":1.4},"encoding":{"x2":{"field":"sx2"},"y2":{"field":"sy2"}}},
{"transform":[{"filter":"datum.kind=='red'"}],"mark":{"type":"circle","size":55,"fill":"#e00014","stroke":"#333","strokeWidth":0.9,"opacity":1}},
{"transform":[{"filter":"datum.kind=='gapL'"}],"mark":{"type":"circle","size":28,"fill":"#fff","opacity":1}},
{"transform":[{"filter":"datum.kind=='gap'"}],"mark":{"type":"circle","size":10,"fill":"#fff","opacity":1}}
]}
]}
